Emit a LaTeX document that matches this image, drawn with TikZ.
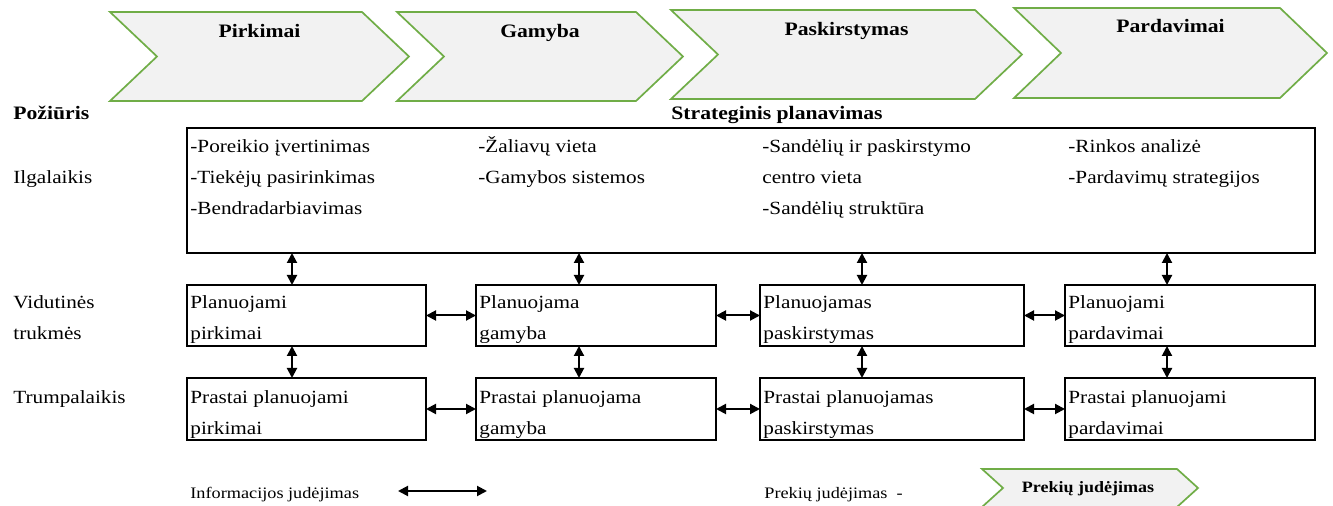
\documentclass[tikz,border=0pt]{standalone}
\usepackage{fontspec}
\setmainfont{Liberation Serif}[FakeStretch=1.14]
\usetikzlibrary{arrows.meta}
\definecolor{colEdge}{RGB}{112,173,71}
\definecolor{colShade}{RGB}{242,242,242}
\tikzset{
  chev/.style={draw=colEdge, fill=colShade, line width=0.85pt},
  plan/.style={draw, line width=1.3pt, anchor=north west, inner sep=0pt, outer sep=0pt},
  txt/.style={anchor=base west, inner sep=0pt, font=\fontsize{9.3}{11}\selectfont},
  legtxt/.style={txt, font=\fontsize{8}{9}\selectfont},
  head/.style={anchor=base, inner sep=0pt, font=\bfseries\fontsize{9.5}{11}\selectfont},
  infoarr/.style={line width=1pt, {Triangle[length=5pt,width=5pt]}-{Triangle[length=5pt,width=5pt]}},
}

\begin{document}
\begin{tikzpicture}[x=0.5pt, y=-0.5pt]
    \useasboundingbox (0,0) rectangle (1333,506);

    % value chain chevrons
    \foreach \n/\xa/\xb/\ya/\yb/\ty/\name in {1/110/362/12/101/38/Pirkimai, 2/397/636/12/101/38/Gamyba, 3/671/975/10/99/36/Paskirstymas, 4/1014/1280/8/98/33/Pardavimai} {
        \draw[chev] (\xa,\ya) -- (\xb,\ya) -- (\xb+47,{(\ya+\yb)/2}) -- (\xb,\yb) -- (\xa,\yb) -- (\xa+47,{(\ya+\yb)/2}) -- cycle;
        \node[head] (ch\n) at ({(\xa+\xb+47)/2},\ty) {\name};
    }

    % headings and row labels
    \node[head, anchor=base west] (view) at (13,120) {Požiūris};
    \node[head] (strtitle) at (777,120) {Strateginis planavimas};
    \node[txt] (long) at (13,184) {Ilgalaikis};
    \node[txt] (mida) at (13,309) {Vidutinės};
    \node[txt] (midb) at (13,340) {trukmės};
    \node[txt] (short) at (13,404) {Trumpalaikis};

    % strategic planning box
    \node[plan, minimum width=564pt, minimum height=62.5pt] (strat) at (187,128) {};
    \foreach \x/\lines [count=\n] in {190/{-Poreikio įvertinimas,-Tiekėjų pasirinkimas,-Bendradarbiavimas}, 478/{-Žaliavų vieta,-Gamybos sistemos}, 762/{-Sandėlių ir paskirstymo,centro vieta,-Sandėlių struktūra}, 1068/{-Rinkos analizė,-Pardavimų strategijos}}
        \foreach \t [count=\i] in \lines
            \node[txt] (s\n-\i) at (\x,{153+31*(\i-1)}) {\t};

    % medium term
    \foreach \n/\xa/\xb/\la/\lb in {1/187/426/Planuojami/pirkimai, 2/476/716/Planuojama/gamyba, 3/760/1024/Planuojamas/paskirstymas, 4/1065/1315/Planuojami/pardavimai} {
        \node[plan, minimum width={(\xb-\xa)*0.5pt}, minimum height=30.5pt] (m\n) at (\xa,285) {};
        \node[txt] (ma\n) at (\xa+3,309) {\la};
        \node[txt] (mb\n) at (\xa+3,340) {\lb};
    }

    % short term
    \foreach \n/\xa/\xb/\la/\lb in {1/187/426/Prastai planuojami/pirkimai, 2/476/716/Prastai planuojama/gamyba, 3/760/1024/Prastai planuojamas/paskirstymas, 4/1065/1315/Prastai planuojami/pardavimai} {
        \node[plan, minimum width={(\xb-\xa)*0.5pt}, minimum height=31pt] (b\n) at (\xa,378) {};
        \node[txt] (ba\n) at (\xa+3,404) {\la};
        \node[txt] (bb\n) at (\xa+3,435) {\lb};
    }

    % information flows
    \foreach \n/\x in {1/292, 2/579, 3/862, 4/1167} {
        \coordinate (c\n) at (\x,0);
        \draw[infoarr] (strat.south -| c\n) -- (m\n.north -| c\n);
        \draw[infoarr] (m\n.south -| c\n) -- (b\n.north -| c\n);
    }
    \foreach \n/\m in {1/2, 2/3, 3/4} {
        \draw[infoarr] (m\n.east) -- (m\m.west);
        \draw[infoarr] (b\n.east) -- (b\m.west);
    }

    % legend
    \node[legtxt] (leginfo) at (190,499) {Informacijos judėjimas};
    \coordinate (la) at (398,491);
    \coordinate (lb) at (487,491);
    \draw[infoarr] (la) -- (lb);
    \node[legtxt] (leggoods) at (764,499) {Prekių judėjimas\ \ -};
    \draw[chev] (982,469) -- (1177,469) -- (1198,488) -- (1177,507) -- (982,507) -- (1003,488) -- cycle;
    \node[head, font=\bfseries\fontsize{7.9}{9}\selectfont] (legchev) at (1088,493) {Prekių judėjimas};
\end{tikzpicture}
\end{document}
